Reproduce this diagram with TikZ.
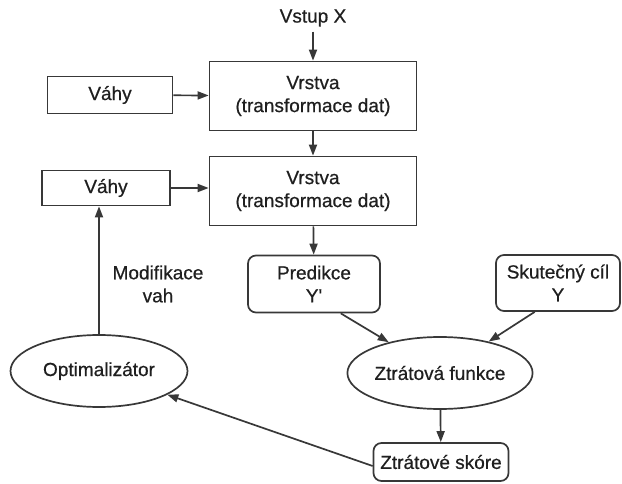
\documentclass[tikz,border=0pt]{standalone}
\usepackage{fontspec}
\setmainfont{Liberation Sans}[FakeBold=0.6]
\usetikzlibrary{arrows.meta,shapes.geometric,calc}
\begin{document}
\begin{tikzpicture}[x=1pt,y=-1pt,
  every node/.style={font=\fontsize{19}{23}\selectfont, text=black!88, align=center, inner sep=0pt},
  ln/.style={draw=black!78, line width=1.7pt},
  arr/.style={ln, -{Triangle[length=11pt,width=8pt]}},
  sqbox/.style={ln, rectangle},
  rbox/.style={ln, rectangle, rounded corners=8pt},
  ell/.style={ln, ellipse}]
\useasboundingbox (0,0) rectangle (622,484);
\node (in) at (313,18) {Vstup X};
\node[sqbox, minimum width=207pt, minimum height=69pt] (l1) at (313,96) {Vrstva\\(transformace dat)};
\node[sqbox, minimum width=125pt, minimum height=37pt] (w1) at (110,95) {Váhy};
\node[sqbox, minimum width=207pt, minimum height=69pt] (l2) at (313,191) {Vrstva\\(transformace dat)};
\node[sqbox, minimum width=128pt, minimum height=35pt] (w2) at (106,188) {Váhy};
\node[rbox, minimum width=132pt, minimum height=57pt] (pred) at (314,284) {Predikce\\Y\textquotesingle};
\node[rbox, minimum width=124pt, minimum height=56pt] (true) at (558,283) {Skutečný cíl\\Y};
\node[ell, minimum width=170pt, minimum height=72pt] (zf) at (440,373) {Ztrátová funkce};
\node[ell, minimum width=177pt, minimum height=72pt] (opt) at (99,371) {Optimalizátor};
\node[rbox, minimum width=135pt, minimum height=38pt] (sk) at (441,462) {Ztrátové skóre};
\node (mod) at (158,284) {Modifikace\\vah};
\draw[arr, shorten <=5pt] (in) -- (l1);
\draw[arr] (w1) -- (l1);
\draw[arr] (l1) -- (l2);
\draw[arr] (w2.east) -- (l2.west |- w2.east);
\draw[arr] (l2) -- (pred);
\draw[arr] ($(pred.south)!0.4!(pred.south east)$) -- (zf);
\draw[arr] ($(true.south)!0.37!(true.south west)$) -- (zf);
\draw[arr] (zf) -- (sk);
\draw[arr] ($(sk.west)+(0,-4pt)$) -- (opt);
\draw[arr] (opt) -- (opt |- w2.south);
\end{tikzpicture}
\end{document}
